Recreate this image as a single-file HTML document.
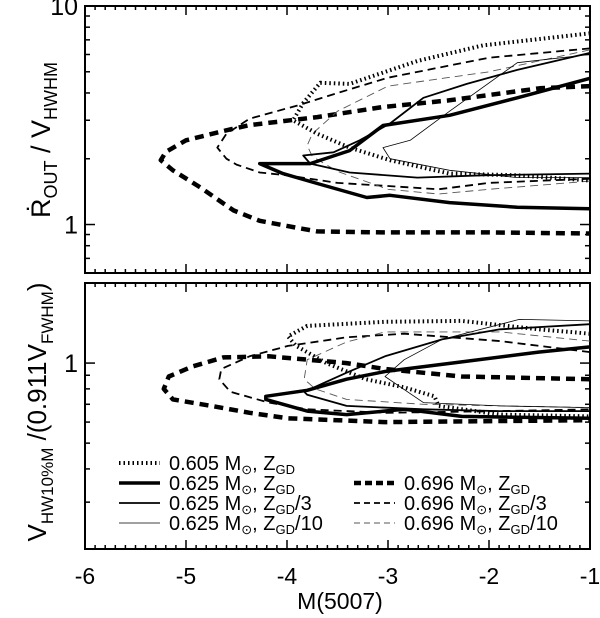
<!DOCTYPE html>
<html><head><meta charset="utf-8"><style>
html,body{margin:0;padding:0;background:#fff;}
svg{display:block;font-family:"Liberation Sans",Arial,sans-serif;}
</style></head><body>
<svg id="chart" width="600" height="618" viewBox="0 0 600 618">
<g id="top"></g>
<g id="bot"></g>
<text x="340" y="609" font-size="23" text-anchor="middle">M(5007)</text>
<g transform="translate(50,140) rotate(-90)">
<text x="0" y="0" font-size="27" text-anchor="middle">Ṙ<tspan font-size="18" dy="7">OUT</tspan><tspan dy="-7"> / V</tspan><tspan font-size="18" dy="7">HWHM</tspan></text>
</g>
<g transform="translate(46,412) rotate(-90)">
<text x="0" y="0" font-size="26" text-anchor="middle">V<tspan font-size="17" dy="7">HW10%M</tspan><tspan dy="-7"> /(0.911V</tspan><tspan font-size="17" dy="7">FWHM</tspan><tspan dy="-7">)</tspan></text>
</g>
</svg>
<script>
// ---- data ----
const xTicks=[-6,-5,-4,-3,-2,-1];
const topYTicks=[1,10];
const botYTicks=[1];
// top panel series [M, value]
const topA=[[-1,4.3],[-1.5,4.2],[-2.4,3.7],[-3.05,3.45],[-3.7,3.1],[-4.37,2.85],[-4.6,2.7],[-5.0,2.43],[-5.2,2.15],[-5.25,1.97],[-5.13,1.77],[-4.86,1.48],[-4.53,1.16],[-4.27,1.04],[-3.87,0.96],[-3.7,0.93],[-3.05,0.92],[-2,0.92],[-1,0.91]];
const topB=[[-1,6.4],[-2,5.8],[-3,4.7],[-3.5,4.0],[-3.9,3.5],[-4.37,3.05],[-4.6,2.6],[-4.69,2.25],[-4.6,2.0],[-4.5,1.88],[-4.27,1.73],[-4.0,1.68],[-3.5,1.55],[-3,1.5],[-2.5,1.45],[-2,1.55],[-1,1.62]];
const topC=[[-1,6.3],[-2,5.0],[-3,4.3],[-3.5,3.3],[-3.75,2.6],[-3.8,2.3],[-3.75,2.05],[-3.5,1.75],[-3,1.45],[-2.5,1.38],[-2,1.45],[-1,1.58]];
const topD=[[-1,7.5],[-2.06,6.6],[-2.71,5.6],[-3.38,4.4],[-3.67,4.45],[-3.84,3.6],[-3.94,3.0],[-3.7,2.6],[-3.38,2.25],[-2.98,1.97],[-2.39,1.71],[-1.72,1.68],[-1,1.59]];
const topE=[[-1,4.67],[-1.72,3.8],[-2.39,3.16],[-3.05,2.84],[-3.38,2.18],[-3.77,1.9],[-4.27,1.9],[-4.04,1.71],[-3.7,1.54],[-3.21,1.33],[-2.98,1.36],[-2.39,1.26],[-1.72,1.2],[-1,1.18]];
const topF=[[-1,6.1],[-1.72,5.1],[-2.22,4.4],[-2.65,3.8],[-2.98,2.9],[-3.28,2.43],[-3.54,2.14],[-3.84,2.07],[-3.77,1.9],[-3.38,1.73],[-2.71,1.64],[-2.06,1.68],[-1,1.71]];
const topG=[[-1,6.0],[-1.72,5.5],[-2.39,3.3],[-2.78,2.43],[-3.05,2.25],[-2.98,2.0],[-2.39,1.77],[-1.72,1.64],[-1,1.64]];
// bottom panel series
const botH=[[-1,0.87],[-2.27,0.89],[-3.03,0.95],[-3.41,1.0],[-4.18,1.06],[-4.63,1.05],[-4.94,0.97],[-5.17,0.89],[-5.22,0.8],[-5.13,0.73],[-4.75,0.69],[-4.37,0.65],[-3.99,0.62],[-3.03,0.6],[-1,0.61]];
const botI=[[-1,1.1],[-1.89,1.21],[-2.84,1.29],[-3.41,1.25],[-3.99,1.16],[-4.37,1.06],[-4.65,0.95],[-4.67,0.87],[-4.56,0.78],[-4.18,0.71],[-3.8,0.67],[-3.03,0.65],[-1.89,0.66],[-1,0.67]];
const botJ=[[-1,1.21],[-1.89,1.31],[-3.03,1.31],[-3.41,1.2],[-3.8,1.03],[-3.83,0.87],[-3.72,0.8],[-3.41,0.73],[-2.65,0.7],[-1,0.68]];
const botK=[[-1,1.29],[-1.51,1.34],[-2.27,1.44],[-3.03,1.43],[-3.8,1.38],[-3.99,1.26],[-3.91,1.16],[-3.61,1.0],[-3.22,0.87],[-2.84,0.81],[-2.54,0.75],[-2.5,0.69],[-1.89,0.64],[-1,0.63]];
const botL=[[-1,1.15],[-1.51,1.1],[-2.27,1.01],[-3.03,0.93],[-3.41,0.87],[-3.8,0.79],[-4.21,0.75],[-4.21,0.73],[-3.8,0.66],[-3.41,0.64],[-2.84,0.67],[-2.27,0.63],[-1,0.62]];
const botM=[[-1,1.4],[-1.89,1.34],[-2.46,1.23],[-3.03,1.06],[-3.41,0.92],[-3.83,0.78],[-3.8,0.76],[-3.41,0.69],[-2.65,0.67],[-1.89,0.66],[-1,0.66]];
const botN=[[-1,1.44],[-1.7,1.46],[-2.46,1.23],[-2.84,1.03],[-3.03,0.89],[-2.65,0.71],[-1.89,0.69],[-1,0.68]];

const NS="http://www.w3.org/2000/svg";
const X0=85,X1=590,XMIN=-6,XMAX=-1;
const sx=m=>X0+(m-XMIN)/(XMAX-XMIN)*(X1-X0);
const panels={
 top:{y0:6,y1:273,lmin:Math.log10(0.6),lmax:1},
 bot:{y0:283,y1:549,lmin:Math.log10(0.2),lmax:Math.log10(2)}
};
function sy(p,v){const P=panels[p];return P.y1-(Math.log10(v)-P.lmin)/(P.lmax-P.lmin)*(P.y1-P.y0);}
const styles={
 thickDot:{w:4,d:"1.5 3",c:"#000"},
 thickSolid:{w:3.5,d:"",c:"#000"},
 medSolid:{w:1.8,d:"",c:"#000"},
 thinSolid:{w:0.8,d:"",c:"#000"},
 thickDash:{w:4.5,d:"9 6",c:"#000"},
 medDash:{w:1.8,d:"8 5",c:"#000"},
 thinDash:{w:0.9,d:"8 5",c:"#555"}
};
function mk(tag,attrs,parent){const e=document.createElementNS(NS,tag);for(const k in attrs)e.setAttribute(k,attrs[k]);parent.appendChild(e);return e;}
function axes(p,g,labels){
 const P=panels[p];
 const r=mk('rect',{x:X0,y:P.y0,width:X1-X0,height:P.y1-P.y0,fill:'none',stroke:'#000','stroke-width':2},g);
 
 
 for(let i=0;i<=50;i++){const m=XMIN+i*0.1;const x=sx(m);const L=(i%10===0)?9:4;
  mk('line',{x1:x,x2:x,y1:P.y1,y2:P.y1-L,stroke:'#000','stroke-width':1.5},g);
  mk('line',{x1:x,x2:x,y1:P.y0,y2:P.y0+L,stroke:'#000','stroke-width':1.5},g);}
 for(let e=-1;e<=1;e++)for(let k=1;k<10;k++){const v=k*Math.pow(10,e);const lv=Math.log10(v);
  if(lv<P.lmin-1e-9||lv>P.lmax+1e-9)continue;const y=sy(p,v);const L=(k===1)?10:5;
  mk('line',{x1:X0,x2:X0+L,y1:y,y2:y,stroke:'#000','stroke-width':1.5},g);
  mk('line',{x1:X1,x2:X1-L,y1:y,y2:y,stroke:'#000','stroke-width':1.5},g);}
 labels.forEach(v=>{const t=mk('text',{x:X0-7,y:sy(p,v)+9,'font-size':25,'text-anchor':'end'},g);t.textContent=String(v);
  
  });
}
function series(p,g,data,st,name){
 const s=styles[st];
 const d=data.map((q,i)=>(i?'L':'M')+sx(q[0]).toFixed(1)+','+sy(p,q[1]).toFixed(1)).join(' ');
 const e=mk('path',{d:d,fill:'none',stroke:s.c,'stroke-width':s.w,'stroke-dasharray':s.d,'stroke-linejoin':'round'},g);
 
 
}
const gt=document.getElementById('top'),gb=document.getElementById('bot');
axes('top',gt,topYTicks);axes('bot',gb,botYTicks);
series('top',gt,topA,'thickDash','top-0696-zgd');
series('top',gt,topB,'medDash','top-0696-zgd3');
series('top',gt,topC,'thinDash','top-0696-zgd10');
series('top',gt,topD,'thickDot','top-0605-zgd');
series('top',gt,topE,'thickSolid','top-0625-zgd');
series('top',gt,topF,'medSolid','top-0625-zgd3');
series('top',gt,topG,'thinSolid','top-0625-zgd10');
series('bot',gb,botH,'thickDash','bottom-0696-zgd');
series('bot',gb,botI,'medDash','bottom-0696-zgd3');
series('bot',gb,botJ,'thinDash','bottom-0696-zgd10');
series('bot',gb,botK,'thickDot','bottom-0605-zgd');
series('bot',gb,botL,'thickSolid','bottom-0625-zgd');
series('bot',gb,botM,'medSolid','bottom-0625-zgd3');
series('bot',gb,botN,'thinSolid','bottom-0625-zgd10');
const svg=document.getElementById('chart');
xTicks.forEach(m=>{const t=mk('text',{x:sx(m),y:584,'font-size':23,'text-anchor':'middle'},svg);t.textContent=String(m);
 
 });
// legend
const legend=[
 [119,463,'thickDot','0.605',''],
 [119,483,'thickSolid','0.625',''],
 [119,503,'medSolid','0.625','/3'],
 [119,523,'thinSolid','0.625','/10'],
 [354,483,'thickDash','0.696',''],
 [354,503,'medDash','0.696','/3'],
 [354,523,'thinDash','0.696','/10']];
const lg=mk('g',{},svg);


legend.forEach(r=>{const s=styles[r[2]];
 const ln=mk('line',{x1:r[0],x2:r[0]+41,y1:r[1],y2:r[1],stroke:s.c,'stroke-width':s.w,'stroke-dasharray':s.d==="9 6"?"7 4":(s.d==="8 5"?"6 4":s.d)},lg);
 
 
 const t=mk('text',{x:r[0]+50,y:r[1]+7,'font-size':20},lg);
 t.innerHTML=r[3]+' M<tspan font-size="13" dy="4">\u2299</tspan><tspan dy="-4">, Z</tspan><tspan font-size="13" dy="4">GD</tspan><tspan dy="-4">'+r[4]+'</tspan>';
 
 });
</script>
</body></html>
